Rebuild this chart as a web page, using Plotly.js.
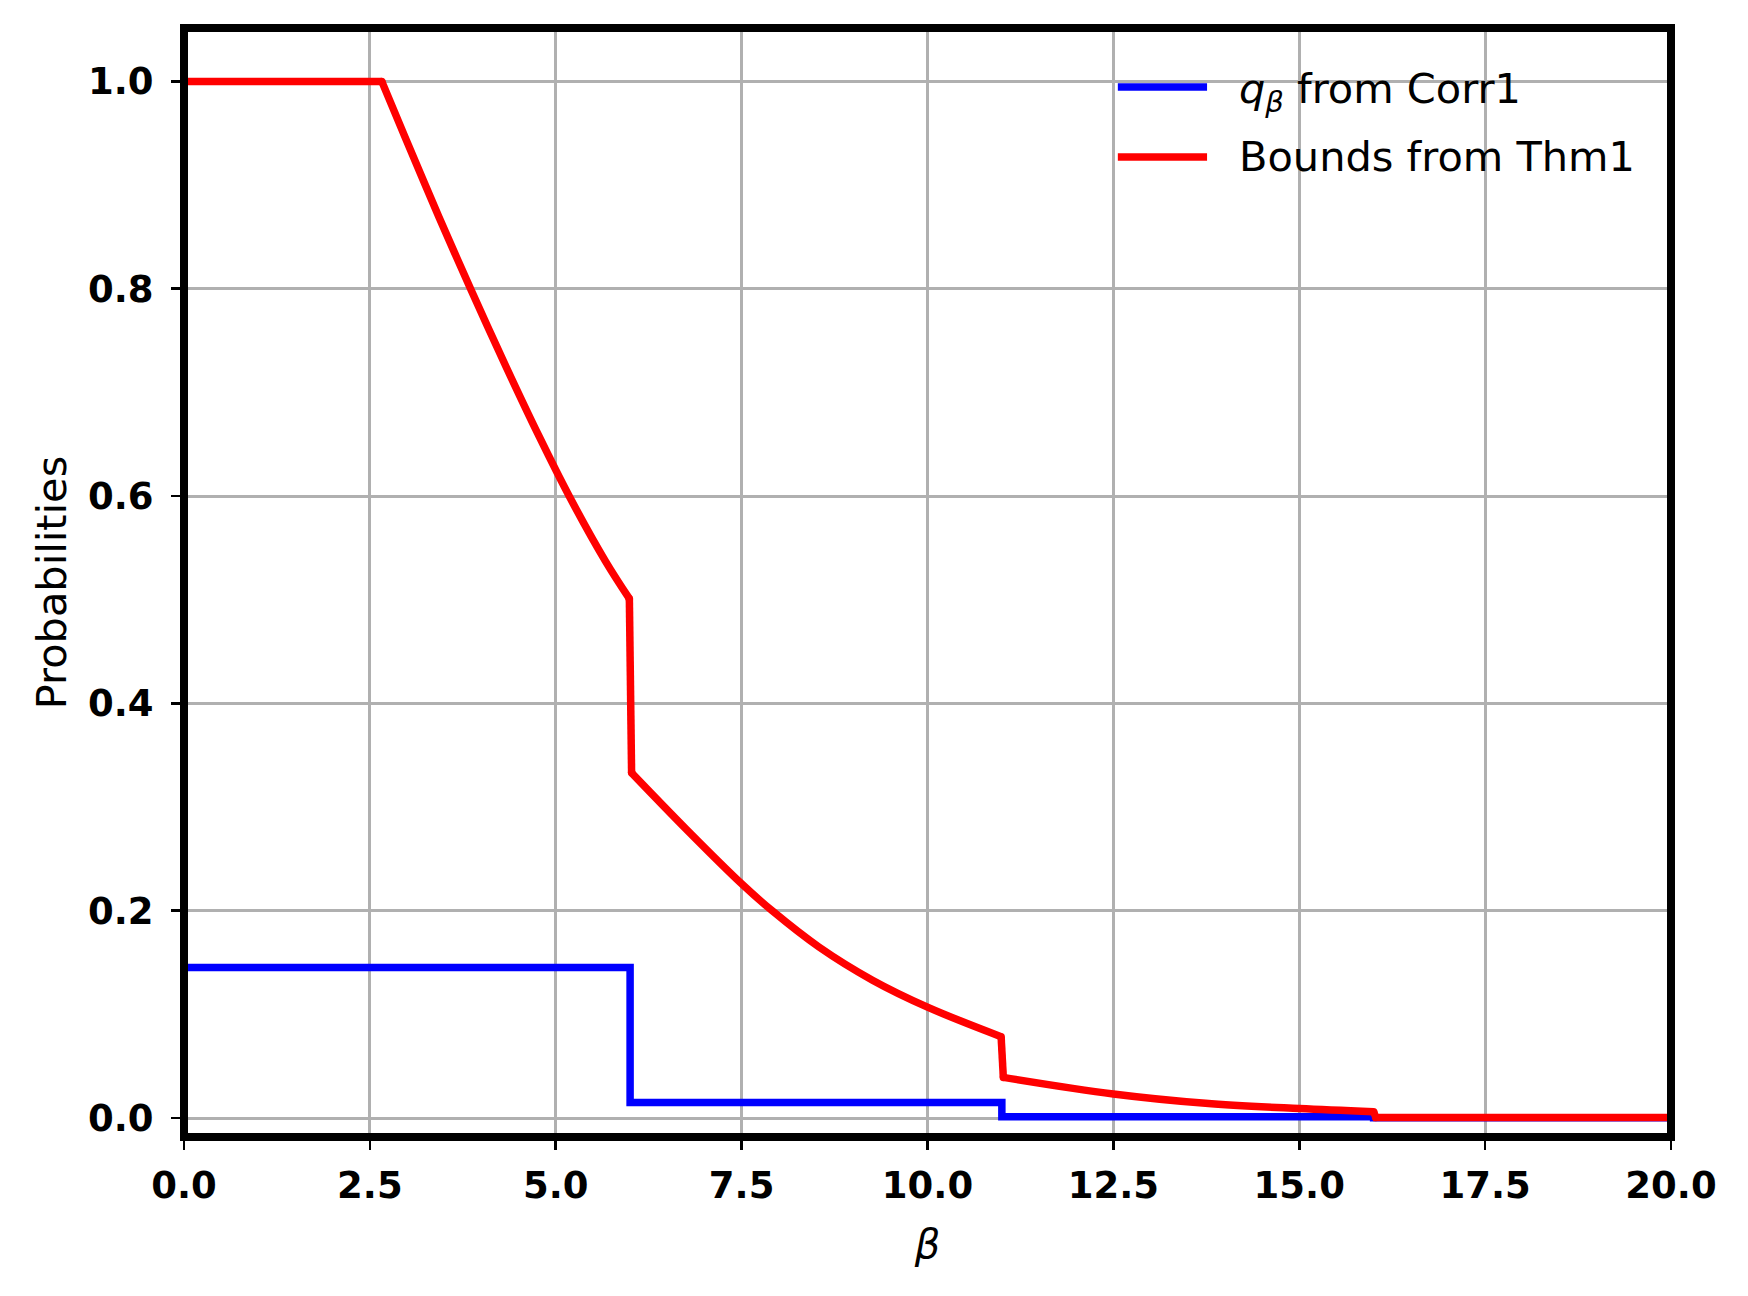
<!DOCTYPE html>
<html><head><meta charset="utf-8">
<script src="https://cdn.plot.ly/plotly-3.0.1.min.js"></script>
<style>html,body{margin:0;padding:0;background:#fff;} #chart{width:1748px;height:1296px;}</style>
</head><body><div id="chart"></div>
<script>
// ---- data ----
const seriesNames = ["<i>q</i><sub><i>β</i></sub> from Corr1", "Bounds from Thm1"];
const seriesColors = ["#0000ff", "#ff0000"];
const betaQ = [0, 6, 11, 16, 20];
const qValues = [0.1453, 0.0151, 0.0012, 0.0002, 0.0002];
const betaBound = [0, 2.66, 2.98, 3.43, 3.86, 4.33, 4.78, 5.18, 5.67, 5.99, 6.02, 6.75, 7.5, 7.91, 8.54, 9.26, 10.0, 10.99, 11.02, 12.5, 13.74, 15.0, 16.0, 16.03, 20];
const boundValues = [1, 1, 0.945, 0.869, 0.799, 0.725, 0.657, 0.6, 0.537, 0.501, 0.333, 0.279, 0.226, 0.2, 0.165, 0.133, 0.107, 0.0785, 0.0392, 0.0232, 0.0142, 0.0091, 0.0061, 0.0005, 0.0005];
const xTickVals = [0, 2.5, 5, 7.5, 10, 12.5, 15, 17.5, 20];
const xTickText = ["0.0", "2.5", "5.0", "7.5", "10.0", "12.5", "15.0", "17.5", "20.0"];
const yTickVals = [0, 0.2, 0.4, 0.6, 0.8, 1.0];
const yTickText = ["0.0", "0.2", "0.4", "0.6", "0.8", "1.0"];
const xTitle = "<i>β</i>";
const yTitle = "Probabilities";

// smooth stretches of the bound (index ranges into the arrays above); the rest is straight pieces
const smoothRanges = [[1, 9], [10, 17], [18, 22]];
const straightRanges = [[0, 1], [9, 10], [17, 18], [22, 24]];

function pick(ranges, arr) {
  const out = [];
  ranges.forEach((r, k) => {
    if (k > 0) out.push(null);
    for (let i = r[0]; i <= r[1]; i++) out.push(arr[i]);
  });
  return out;
}

const LW = 7.5;
// ---- traces ----
const traces = [
  {x: betaQ, y: qValues, type: "scatter", mode: "lines", name: seriesNames[0],
   line: {color: seriesColors[0], width: LW, shape: "hv"}, showlegend: false},
  {x: pick(straightRanges, betaBound), y: pick(straightRanges, boundValues), type: "scatter",
   mode: "lines+markers", name: seriesNames[1], connectgaps: false,
   line: {color: seriesColors[1], width: LW}, marker: {color: seriesColors[1], size: LW, line: {width: 0}},
   showlegend: false},
  {x: pick(smoothRanges, betaBound), y: pick(smoothRanges, boundValues), type: "scatter",
   mode: "lines", name: seriesNames[1], connectgaps: false,
   line: {color: seriesColors[1], width: LW, shape: "spline", smoothing: 1}, showlegend: false}
];

// ---- custom legend (matplotlib-style long sample lines) ----
const legendLineY = [0.9468, 0.8837];
const legendTextY = [0.9425, 0.8837];
const shapes = [{type: "rect", xref: "paper", yref: "paper", x0: 0, x1: 1, y0: 0, y1: 1,
                 line: {color: "#000", width: 8}, layer: "above"}];
const annotations = [];
seriesNames.forEach((nm, i) => {
  shapes.push({type: "line", xref: "paper", yref: "paper", x0: 0.628, x1: 0.688,
               y0: legendLineY[i], y1: legendLineY[i], line: {color: seriesColors[i], width: LW}});
  annotations.push({xref: "paper", yref: "paper", x: 0.708, y: legendTextY[i], xanchor: "left",
                    yanchor: "middle", text: nm, showarrow: false,
                    font: {family: "DejaVu Sans", size: 41.5, color: "#000"}});
});

const axisCommon = {showgrid: true, gridcolor: "#b0b0b0", gridwidth: 3, zeroline: false,
  ticks: "outside", ticklen: 12, tickwidth: 2.7, tickcolor: "#000", showline: false,
  tickfont: {family: "DejaVu Sans", size: 37, weight: "bold", color: "#000"}, automargin: false};

const layout = {
  width: 1748, height: 1296,
  margin: {l: 184, r: 77, t: 28, b: 159},
  paper_bgcolor: "#fff", plot_bgcolor: "#fff",
  font: {family: "DejaVu Sans", color: "#000"},
  showlegend: false,
  xaxis: Object.assign({}, axisCommon, {range: [0, 20], tickmode: "array", tickvals: xTickVals, ticktext: xTickText,
    ticklabelstandoff: 4,
    title: {text: xTitle, font: {family: "DejaVu Sans", size: 40}, standoff: 23}}),
  yaxis: Object.assign({}, axisCommon, {range: [-0.0183, 1.0515], tickmode: "array", tickvals: yTickVals, ticktext: yTickText,
    ticklabelstandoff: 10,
    title: {text: yTitle, font: {family: "DejaVu Sans", size: 41.5}, standoff: 8}}),
  shapes: shapes,
  annotations: annotations
};

Plotly.newPlot("chart", traces, layout, {displayModeBar: false, staticPlot: true});
</script>
</body></html>
